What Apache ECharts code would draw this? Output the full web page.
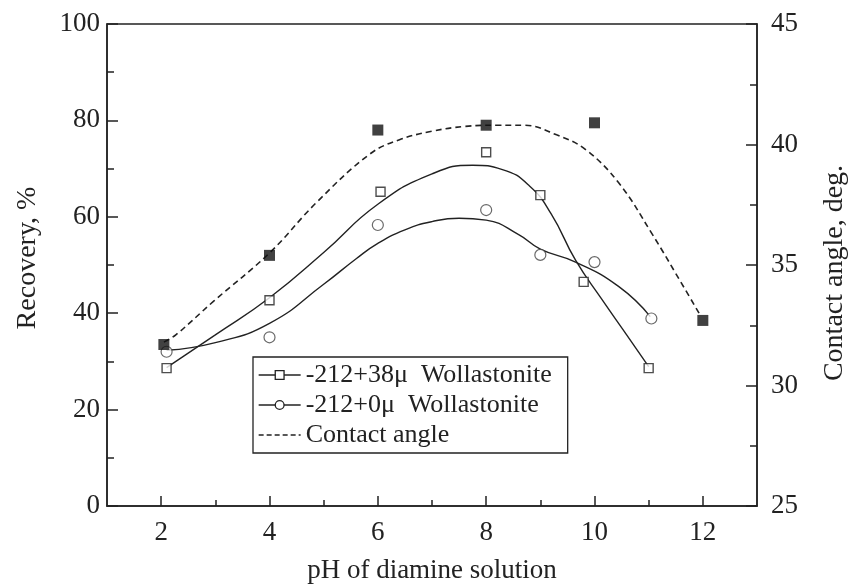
<!DOCTYPE html>
<html lang="en">
<head>
<meta charset="UTF-8">
<title>Recovery and contact angle vs pH</title>
<script src="https://cdn.jsdelivr.net/npm/echarts@6/dist/echarts.min.js"></script>
<style>
    body { margin: 0; background: #fff; }
    #chart { width: 849px; height: 586px; }
</style>
</head>
<body>
<div id="chart"></div>
<script>
    // tick values
    var xTicks = [2, 4, 6, 8, 10, 12];
    var xMinorTicks = [3, 5, 7, 9, 11];

    // measured points [pH, value]
    var coarsePts = [[2.1, 28.6], [4, 42.7], [6.05, 65.2], [8, 73.4], [9, 64.5], [9.8, 46.5], [11, 28.6]];
    var finePts = [[2.1, 32.0], [4, 35.0], [6, 58.3], [8, 61.4], [9, 52.1], [10, 50.6], [11.05, 38.9]];
    var anglePts = [[2.05, 31.7], [4, 35.4], [6, 40.6], [8, 40.8], [10, 40.9], [12, 32.7]];

    // fitted curves
    var coarseFit = [[2.1, 28.7], [3, 35.5], [4, 43.2], [5, 52.6], [6, 62.6], [7, 68.9], [7.75, 70.7],
        [8.3, 69.8], [8.8, 66.4], [9.2, 60.6], [9.65, 51.0], [10.14, 42.8], [10.6, 35.4], [11, 28.9]];
    var fineFit = [[2.1, 32.3], [3, 33.9], [4, 37.9], [5, 46.0], [5.6, 51.3], [6, 54.5], [6.5, 57.3],
        [7, 59.0], [7.5, 59.7], [8, 59.3], [8.6, 56.3], [9.0, 53.3], [9.65, 50.6], [10.45, 45.5], [11.03, 39.3]];
    var angleFit = [[2.05, 31.8], [2.27, 32.1], [2.97, 33.5], [4, 35.5], [4.87, 37.6], [5.85, 39.6], [6.4, 40.2],
        [7, 40.55], [7.6, 40.75], [8.2, 40.8], [8.7, 40.8], [9.3, 40.4], [9.83, 39.8], [10.45, 38.4],
        [11.06, 36.3], [11.67, 34.0], [11.93, 33.0]];

    var names = ['-212+38\u03bc  Wollastonite', '-212+0\u03bc  Wollastonite', 'Contact angle'];

    var ink = '#222';
    var serif = 'Liberation Serif';

    var chart = echarts.init(document.getElementById('chart'));

    var option = {
        animation: false,
        backgroundColor: '#fff',
        textStyle: { fontFamily: serif, color: ink },
        grid: {
            left: 107, right: 92, top: 24, bottom: 80,
            show: true, borderColor: ink, borderWidth: 1.5,
            outerBoundsMode: 'none'
        },
        legend: {
            left: 253, top: 357,
            orient: 'vertical',
            itemWidth: 42, itemHeight: 11, itemGap: 4,
            padding: [5, 16, 5, 5],
            borderColor: ink, borderWidth: 1.3,
            textStyle: { fontFamily: serif, fontSize: 26, color: ink },
            data: [
                { name: names[0], itemStyle: { color: '#fff', borderColor: ink, borderWidth: 1.3 }, lineStyle: { color: ink, width: 1.3 } },
                { name: names[1], itemStyle: { color: '#fff', borderColor: ink, borderWidth: 1.3 }, lineStyle: { color: ink, width: 1.3 } },
                { name: names[2], itemStyle: { color: 'transparent', borderWidth: 0, opacity: 0 }, lineStyle: { color: ink, width: 1.3, type: [5, 3] } }
            ]
        },
        xAxis: [
            {
                type: 'value', min: 1, max: 13,
                name: 'pH of diamine solution', nameLocation: 'middle', nameGap: 51,
                nameTextStyle: { fontFamily: serif, fontSize: 27, color: ink },
                axisLine: { lineStyle: { color: ink, width: 1.5 } },
                axisTick: { inside: true, length: 10, customValues: xTicks, lineStyle: { color: ink, width: 1.5 } },
                axisLabel: { customValues: xTicks, fontFamily: serif, fontSize: 27, color: ink, margin: 13 },
                splitLine: { show: false }
            },
            {
                type: 'value', min: 1, max: 13, position: 'bottom',
                axisLine: { show: false },
                axisTick: { inside: true, length: 6, customValues: xMinorTicks, lineStyle: { color: ink, width: 1.5 } },
                axisLabel: { show: false },
                splitLine: { show: false }
            }
        ],
        yAxis: [
            {
                type: 'value', min: 0, max: 100, interval: 20, position: 'left',
                name: 'Recovery, %', nameLocation: 'middle', nameGap: 65,
                nameTextStyle: { fontFamily: serif, fontSize: 28, color: ink, padding: [0, 0, 0, 14] },
                axisLine: { show: true, lineStyle: { color: ink, width: 1.5 } },
                axisTick: { inside: true, length: 11, lineStyle: { color: ink, width: 1.5 } },
                minorTick: { show: true, splitNumber: 2, length: 7, lineStyle: { color: ink, width: 1.5 } },
                axisLabel: { fontFamily: serif, fontSize: 27, color: ink, margin: 7 },
                splitLine: { show: false }
            },
            {
                type: 'value', min: 25, max: 45, interval: 5, position: 'right',
                name: 'Contact angle, deg.', nameLocation: 'middle', nameGap: 64,
                nameTextStyle: { fontFamily: serif, fontSize: 28, color: ink, padding: [0, 16, 0, 0] },
                axisLine: { show: true, lineStyle: { color: ink, width: 1.5 } },
                axisTick: { inside: true, length: 11, lineStyle: { color: ink, width: 1.5 } },
                minorTick: { show: true, splitNumber: 2, length: 7, lineStyle: { color: ink, width: 1.5 } },
                axisLabel: { fontFamily: serif, fontSize: 27, color: ink, margin: 14 },
                splitLine: { show: false }
            }
        ],
        series: [
            {
                name: names[0], type: 'line', data: coarseFit,
                smooth: 0.5, symbol: 'rect', symbolSize: 9, showSymbol: false,
                lineStyle: { color: ink, width: 1.4 },
                itemStyle: { color: '#fff', borderColor: ink, borderWidth: 1.3 }
            },
            {
                name: names[1], type: 'line', data: fineFit,
                smooth: 0.5, symbol: 'circle', symbolSize: 10, showSymbol: false,
                lineStyle: { color: ink, width: 1.4 },
                itemStyle: { color: '#fff', borderColor: ink, borderWidth: 1.3 }
            },
            {
                name: names[2], type: 'line', yAxisIndex: 1, data: angleFit,
                smooth: 0.4, symbol: 'none',
                lineStyle: { color: ink, width: 1.6, type: [6, 4] }
            },
            {
                name: 'coarse points', type: 'scatter', data: coarsePts,
                symbol: 'rect', symbolSize: 9, z: 4,
                itemStyle: { color: '#fff', borderColor: ink, borderWidth: 1.4 }
            },
            {
                name: 'fine points', type: 'scatter', data: finePts,
                symbol: 'circle', symbolSize: 11, z: 4,
                itemStyle: { color: '#fff', borderColor: '#444', borderWidth: 1.2 }
            },
            {
                name: 'angle points', type: 'scatter', yAxisIndex: 1, data: anglePts,
                symbol: 'rect', symbolSize: 11, z: 4,
                itemStyle: { color: '#111' }
            }
        ]
    };

    chart.setOption(option);
</script>
</body>
</html>
